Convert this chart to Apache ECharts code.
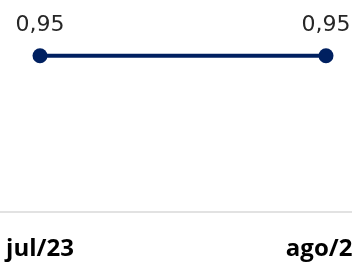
<!DOCTYPE html>
<html><head><meta charset="utf-8">
<script src="https://cdn.jsdelivr.net/npm/echarts@6/dist/echarts.min.js"></script>
<style>html,body{margin:0;padding:0;background:#fff}#c{width:352px;height:263px}</style>
</head><body><div id="c"></div>
<script>
var categories = ['jul/23', 'ago/23'];
var values = [0.95, 0.95];
var idx = categories.map(function(c, i){ return i; });
var seriesData = values.map(function(v, i){ return [i, v]; });
var chart = echarts.init(document.getElementById('c'), null, {renderer: 'canvas'});
chart.setOption({
  animation: false,
  grid: {left: 0, right: 0, top: 47.5, bottom: 51, containLabel: false, outerBoundsMode: 'none'},
  xAxis: {
    type: 'value', min: -40/286, max: 1 + 26/286,
    splitLine: {show: false},
    axisLine: {show: true, onZero: false, lineStyle: {color: '#d9d9d9', width: 1.5}},
    axisTick: {show: false},
    axisLabel: {
      customValues: idx, margin: 25, fontFamily: 'Open Sans', fontWeight: 'bold', fontSize: 24, color: '#000',
      showMinLabel: true, showMaxLabel: true, hideOverlap: false,
      formatter: function(v){ return categories[Math.round(v)]; }
    }
  },
  yAxis: {type: 'value', min: 0, max: 1, show: false, splitLine: {show: false}},
  series: [{
    type: 'line', data: seriesData, symbol: 'circle', symbolSize: 15,
    lineStyle: {color: '#002060', width: 4},
    itemStyle: {color: '#002060'},
    label: {show: true, position: 'top', distance: 12, fontFamily: 'DejaVu Sans', fontSize: 22, color: '#262626',
      formatter: function(p){ return p.value[1].toFixed(2).replace('.', ','); }}
  }]
});
</script></body></html>
